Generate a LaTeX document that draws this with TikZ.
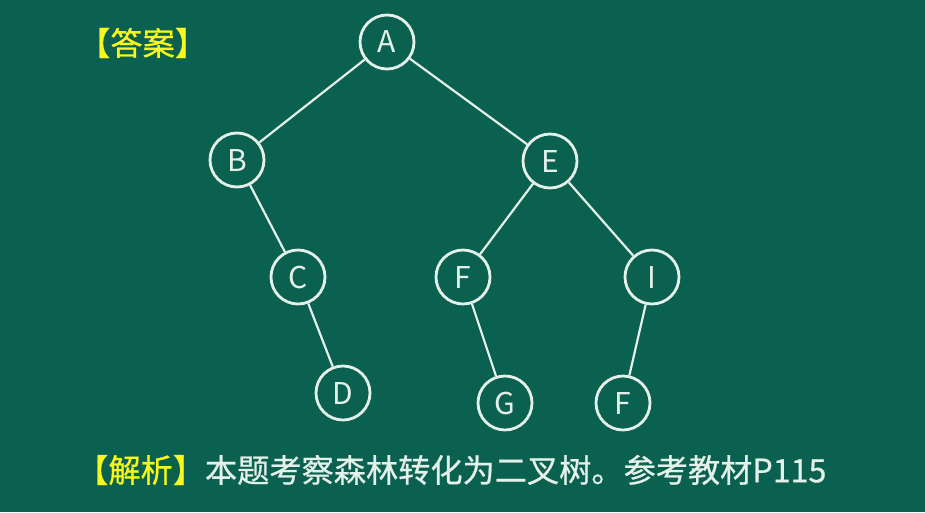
\documentclass[tikz,border=0pt]{standalone}
\usepackage{fontspec}
\setmainfont{Noto Sans CJK SC}
\newfontfamily\boardfont{Noto Sans CJK SC}[FakeBold=0.7]
\definecolor{board}{RGB}{11,97,79}
\definecolor{chalk}{RGB}{228,240,234}
\definecolor{hint}{RGB}{248,248,30}

\begin{document}
\begin{tikzpicture}[x=1pt,y=-1pt,
  vtx/.style={circle, draw=chalk, line width=2.8pt, minimum size=54pt, inner sep=0pt,
    text=chalk, font=\fontsize{30}{30}\selectfont},
  edge/.style={draw=chalk, line width=2.2pt},
  caption/.style={anchor=west, inner sep=0pt, font=\boardfont\fontsize{32.2}{32.2}\selectfont}]
\fill[board] (0,0) rectangle (925,512);
\useasboundingbox (0,0) rectangle (925,512);
% tree
\node[vtx] (A) at (387,42) {A};
\node[vtx] (B) at (237,160) {B};
\node[vtx] (E) at (550,161) {E};
\node[vtx] (C) at (298,277) {C};
\node[vtx] (F) at (463,277) {F};
\node[vtx] (I) at (652,277) {I};
\node[vtx] (D) at (343,393) {D};
\node[vtx] (G) at (505,403) {G};
\node[vtx] (F2) at (623,403) {F};
\draw[edge] (A) -- (B);
\draw[edge] (A) -- (E);
\draw[edge] (B) -- (C);
\draw[edge] (C) -- (D);
\draw[edge] (E) -- (F);
\draw[edge] (E) -- (I);
\draw[edge] (F) -- (G);
\draw[edge] (I) -- (F2);
% texts
\node[caption, text=hint] (ans) at (78,43) {【答案】};
\node[caption, text=chalk] (note) at (76,470)
  {\textcolor{hint}{【解析】}本题考察森林转化为二叉树。参考教材P115};
\end{tikzpicture}
\end{document}
